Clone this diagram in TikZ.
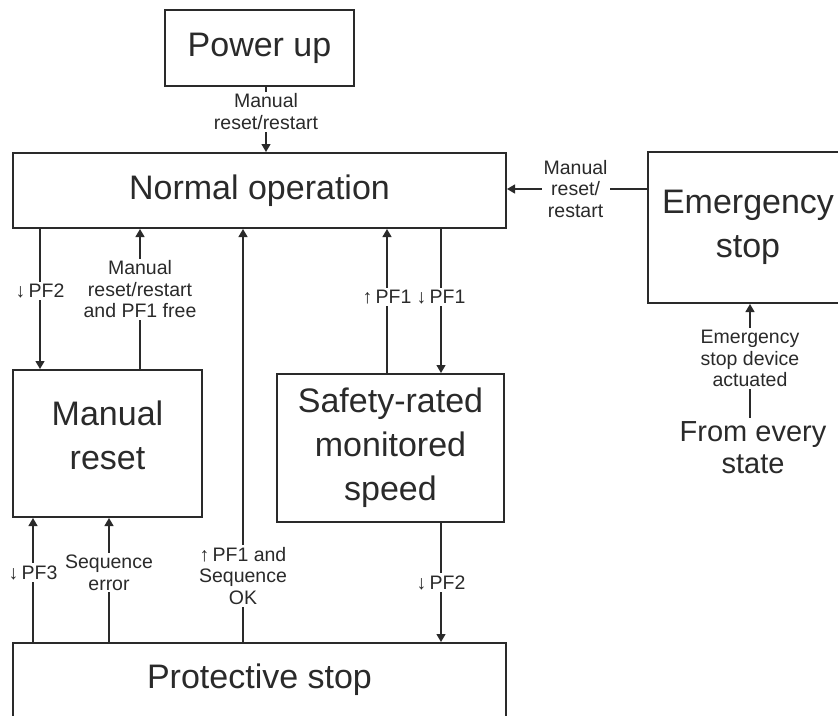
\documentclass[tikz,border=0pt]{standalone}
\usepackage{fontspec}
\setmainfont{Liberation Sans}
\usetikzlibrary{arrows.meta, positioning}
\definecolor{ink}{HTML}{2A2A2A}
\tikzstyle{mode}=[rectangle, draw=ink, line width=2pt, align=center, text=ink, font=\fontsize{34}{44}\selectfont]
\tikzstyle{cond}=[fill=white, align=center, text=ink, inner sep=2pt, font=\fontsize{19.5}{21.5}\selectfont]

\begin{document}
\begin{tikzpicture}[x=1pt, y=-1pt, line width=1.3pt, draw=ink, >={Triangle[length=8pt, width=9pt]}]
    \useasboundingbox (0,0) rectangle (838,715);
    \clip (0,0) rectangle (838,715);

    \node[mode, minimum width=189pt, minimum height=76pt]  (pwr)  at (259.5,48)    {Power up};
    \node[mode, minimum width=493pt, minimum height=75pt]  (norm) at (259.5,190.5) {Normal operation};
    \node[mode, minimum width=200pt, minimum height=151pt] (emg)  at (748,227.5)   {Emergency\\stop};
    \node[mode, minimum width=189pt, minimum height=147pt] (man)  at (107.5,443.5) {Manual\\reset\\[-28pt]};
    \node[mode, minimum width=227pt, minimum height=148pt] (srms) at (390.5,448)   {Safety-rated\\monitored\\speed};
    \node[mode, minimum width=493pt, minimum height=74pt]  (prot) at (259.5,680)   {Protective stop};
    \node[text=ink, align=center, font=\fontsize{29}{32}\selectfont] (every) at (753,448) {From every\\state};

    % columns and rows the connectors run along
    \coordinate (cP) at (266,0);
    \coordinate (c1) at (40,0);
    \coordinate (c2) at (140,0);
    \coordinate (c3) at (243,0);
    \coordinate (c4) at (387,0);
    \coordinate (c5) at (441,0);
    \coordinate (c6) at (33,0);
    \coordinate (c7) at (109,0);
    \coordinate (cE) at (750,0);
    \coordinate (rE) at (0,189);

    \draw[->] (pwr.south -| cP)   -- node[cond, pos=.38] {Manual\\reset/restart} (norm.north -| cP);
    \draw[->] (emg.west |- rE)    -- node[cond, pos=.51] {Manual\\reset/\\restart} (norm.east |- rE);
    \draw[->] (every.north -| cE) -- node[cond, pos=.52] {Emergency\\stop device\\actuated} (emg.south -| cE);

    \draw[->] (norm.south -| c1) -- node[cond, pos=.44] {↓\,PF2} (man.north -| c1);
    \draw[->] (man.north -| c2)  -- node[cond, pos=.57] {Manual\\reset/restart\\and PF1 free} (norm.south -| c2);
    \draw[->] (prot.north -| c3) -- node[cond, pos=.16] {↑\,PF1 and\\Sequence\\OK} (norm.south -| c3);
    \draw[->] (srms.north -| c4) -- node[cond, pos=.53] {↑\,PF1} (norm.south -| c4);
    \draw[->] (norm.south -| c5) -- node[cond, pos=.47] {↓\,PF1} (srms.north -| c5);
    \draw[->] (srms.south -| c5) -- node[cond, pos=.5]  {↓\,PF2} (prot.north -| c5);
    \draw[->] (prot.north -| c6) -- node[cond, pos=.56] {↓\,PF3} (man.south -| c6);
    \draw[->] (prot.north -| c7) -- node[cond, pos=.56] {Sequence\\error} (man.south -| c7);
\end{tikzpicture}
\end{document}
